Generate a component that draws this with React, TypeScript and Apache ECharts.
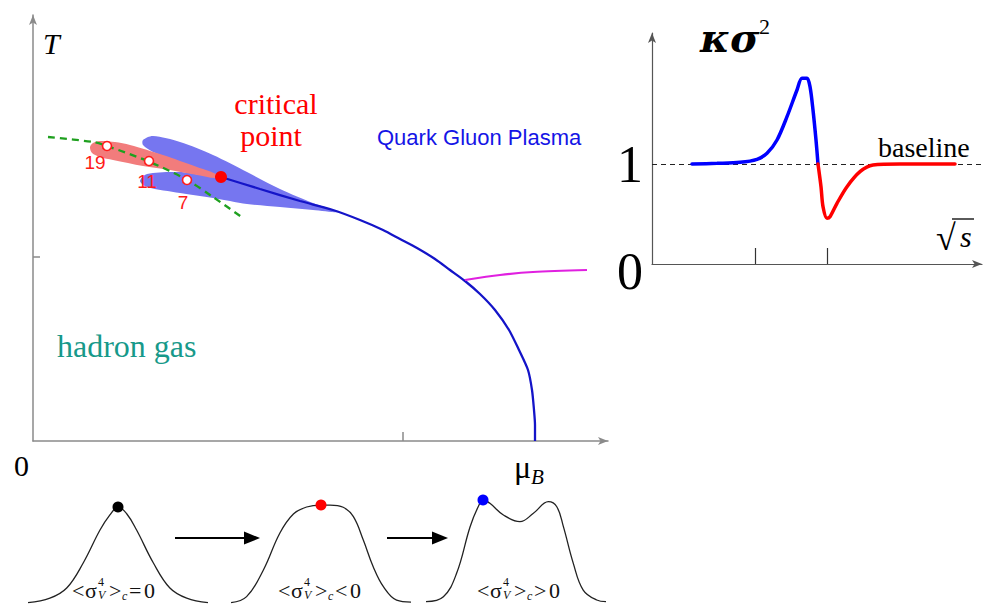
import React, { useEffect, useRef } from 'react';
import * as echarts from 'echarts';

const SERIF = 'Liberation Serif';
const SANS = 'Liberation Sans';

// ---------- Phase diagram (arbitrary units: muB 0..575, T 0..426) ----------
const MU_MAX = 575;
const T_MAX = 426;
const MU_TICKS = [370];
const T_TICKS = [184];

const BLUE_LOBES = [
  [110, 301], [120, 305], [147, 299], [180, 286], [214, 269], [247, 252], [280, 238], [305, 229],
  [280, 231], [247, 234], [214, 237], [180, 243], [147, 248], [114, 254], [107, 260], [114, 267],
  [147, 269], [177, 265], [157, 273], [135, 283], [120, 289], [110, 296],
];
const SALMON_LOBE = [
  [57, 294], [60, 298], [67, 300], [82, 299], [97, 296], [130, 286], [164, 274], [185, 266],
  [182, 263], [164, 266], [137, 271], [110, 275], [80, 281], [67, 284], [59, 288],
];
const FREEZEOUT = [[15, 304], [60, 299], [74, 295], [117, 279], [154, 261], [180, 244], [210, 223]];
const PHASE_BOUNDARY = [
  [188, 264], [227, 252], [267, 240], [300, 231], [327, 221], [350, 211], [367, 202], [384, 193],
  [402, 182], [417, 171], [432, 160], [447, 147], [462, 131], [476, 111], [486, 91], [495, 71],
  [499, 51], [501, 31], [502, 16], [502, 0],
];
const LIQUID_GAS = [[432, 161], [467, 166], [500, 169], [554, 171]];
const ENERGY_LABELS = ['19', '11', '7'];
const ENERGY_POINTS = [[74, 295], [116, 280], [154, 261]];
const CRITICAL_POINT = [188, 264];

// ---------- kappa sigma^2 vs sqrt(s) ----------
const S_MAX = 330;
const K_MAX = 2.31;
const S_TICKS = [103, 175];
const K_LABELS = [0, 1];
const BASELINE = 1;
const KAPPA_BLUE = [
  [40, 1.0], [65, 1.007], [88, 1.017], [105, 1.047], [115, 1.107], [125, 1.24], [135, 1.473],
  [145, 1.74], [150, 1.857], [155, 1.857], [158, 1.773], [161, 1.54], [164, 1.24], [166, 1.0],
];
const KAPPA_RED = [
  [166, 1.0], [169, 0.773], [171, 0.573], [175, 0.457], [178, 0.473], [185, 0.607], [195, 0.773],
  [208, 0.923], [221, 0.99], [248, 1.0], [303, 1.0],
];

// ---------- Distributions ----------
const DIST_GAUSS = [
  [-3, 0.003], [-2.27, 0.05], [-1.71, 0.156], [-1.16, 0.417], [-0.6, 0.76], [-0.27, 0.917], [0, 1.0],
  [0.29, 0.93], [0.62, 0.76], [1.18, 0.417], [1.73, 0.156], [2.29, 0.05], [3, 0.003],
];
const DIST_FLAT = [
  [-3, 0.003], [-2.48, 0.066], [-1.92, 0.344], [-1.37, 0.729], [-0.92, 0.927], [-0.48, 1.0], [0, 1.02],
  [0.3, 1.02], [0.74, 0.997], [1.08, 0.899], [1.41, 0.656], [1.74, 0.378], [2.08, 0.17], [2.52, 0.03], [3, 0.01],
];
const DIST_DOUBLE = [
  [-3, 0.014], [-2.42, 0.066], [-1.98, 0.309], [-1.53, 0.795], [-1.26, 1.003], [-1.09, 1.073], [-0.87, 1.038],
  [-0.42, 0.917], [0.13, 0.847], [0.58, 0.934], [1.08, 1.055], [1.36, 1.003], [1.58, 0.795], [1.91, 0.413],
  [2.24, 0.135], [2.69, 0.031], [3, 0.014],
];
const DIST_SERIES = [DIST_GAUSS, DIST_FLAT, DIST_DOUBLE];
const DIST_DOTS = [[0, 1.0], [0, 1.02], [-1.1, 1.073]];
const DIST_RELATIONS = ['=', '<', '>'];

function polygonSeries(pts: number[][], color: string, z: number) {
  return {
    type: 'custom',
    xAxisIndex: 0,
    yAxisIndex: 0,
    data: pts,
    z,
    silent: true,
    renderItem: (params: any, api: any) => {
      if (params.dataIndex !== 0) return null;
      return {
        type: 'polygon',
        shape: { points: pts.map((p) => api.coord(p)), smooth: 0.3 },
        style: { fill: color },
      };
    },
  };
}

type TOpts = { size: number; family?: string; italic?: boolean; bold?: boolean; fill?: string; align?: string; lineHeight?: number };
function txt(x: number, y: number, text: string, o: TOpts) {
  return {
    type: 'text', x, y, z: 50,
    style: {
      text,
      fontSize: o.size,
      fontFamily: o.family || SERIF,
      fontStyle: o.italic ? 'italic' : 'normal',
      fontWeight: o.bold ? 'bold' : 'normal',
      fill: o.fill || '#000',
      align: o.align || 'left',
      verticalAlign: 'middle',
      lineHeight: o.lineHeight,
    },
  };
}

function fluctLabel(x0: number, rel: string) {
  const c = 590;
  const ink = '#111';
  return [
    txt(x0, c, '<', { size: 22, fill: ink }),
    txt(x0 + 13, c, 'σ', { size: 22, fill: ink }),
    txt(x0 + 26, c - 8, '4', { size: 12, fill: ink }),
    txt(x0 + 26, c + 5, 'V', { size: 12, italic: true, fill: ink }),
    txt(x0 + 37, c, '>', { size: 22, fill: ink }),
    txt(x0 + 50, c + 6, 'c', { size: 12, italic: true, fill: ink }),
    txt(x0 + 57, c, rel, { size: 22, fill: ink }),
    txt(x0 + 72, c, '0', { size: 22, fill: ink }),
  ];
}

function arrow(x1: number, x2: number, y: number) {
  return [
    { type: 'line', z: 50, shape: { x1, y1: y, x2: x2 - 12, y2: y }, style: { stroke: '#000', lineWidth: 2.2 } },
    { type: 'polygon', z: 50, shape: { points: [[x2 - 16, y - 6.5], [x2, y], [x2 - 16, y + 6.5]] }, style: { fill: '#000' } },
  ];
}

function buildOption() {
  const axisGrey = { color: '#8a8a8a', width: 1.5 };
  const axisDark = { color: '#555', width: 1.2 };
  const hidden = { show: false };
  const offsets = [[-12, 16], [-2, 20], [-4, 22]];
  const dotColors = ['#000', '#ff0000', '#0000ff'];
  const distLeft = [28, 231, 426];
  const labelLeft = [72, 278, 477];

  return {
    animation: false,
    backgroundColor: '#fff',
    grid: [
      { left: 33, top: 15, width: 575, height: 426, containLabel: false },
      { left: 652, top: 33, width: 330, height: 231, containLabel: false },
      ...distLeft.map((l) => ({ left: l, top: 495, width: 180, height: 108, containLabel: false })),
    ],
    xAxis: [
      {
        type: 'value', gridIndex: 0, min: 0, max: MU_MAX,
        axisLine: { show: true, lineStyle: axisGrey, symbol: ['none', 'arrow'], symbolSize: [6, 10] },
        axisTick: { show: true, customValues: MU_TICKS, inside: true, length: 9, lineStyle: axisGrey },
        axisLabel: hidden, splitLine: hidden,
      },
      {
        type: 'value', gridIndex: 1, min: 0, max: S_MAX,
        axisLine: { show: true, lineStyle: axisDark, symbol: ['none', 'arrow'], symbolSize: [6, 10] },
        axisTick: { show: true, customValues: S_TICKS, inside: true, length: 16, lineStyle: { color: '#333', width: 1.2 } },
        axisLabel: hidden, splitLine: hidden,
      },
      ...[2, 3, 4].map((g) => ({ type: 'value', gridIndex: g, min: -3, max: 3, show: false })),
    ],
    yAxis: [
      {
        type: 'value', gridIndex: 0, min: 0, max: T_MAX,
        axisLine: { show: true, lineStyle: axisGrey, symbol: ['none', 'arrow'], symbolSize: [6, 10] },
        axisTick: { show: true, customValues: T_TICKS, inside: true, length: 7, lineStyle: axisGrey },
        axisLabel: hidden, splitLine: hidden,
      },
      {
        type: 'value', gridIndex: 1, min: 0, max: K_MAX,
        axisLine: { show: true, lineStyle: axisDark, symbol: ['none', 'arrow'], symbolSize: [6, 10] },
        axisTick: hidden,
        axisLabel: {
          show: true,
          customValues: K_LABELS,
          margin: 9,
          formatter: (v: number) => (v === 0 ? '{z|0}' : '{o|1}'),
          rich: {
            z: { fontSize: 52, fontFamily: SERIF, color: '#000', padding: [14, 0, 0, 0] },
            o: { fontSize: 52, fontFamily: SERIF, color: '#000' },
          },
        },
        splitLine: hidden,
      },
      ...[2, 3, 4].map((g) => ({ type: 'value', gridIndex: g, min: 0, max: 1.125, show: false })),
    ],
    series: [
      polygonSeries(BLUE_LOBES, '#7676f0', 2),
      polygonSeries(SALMON_LOBE, '#f27c7c', 3),
      {
        type: 'line', xAxisIndex: 0, yAxisIndex: 0, data: FREEZEOUT, smooth: 0.3, symbol: 'none', z: 4,
        lineStyle: { color: '#1fa01f', width: 2.3, type: [7, 5] },
      },
      {
        type: 'line', xAxisIndex: 0, yAxisIndex: 0, data: PHASE_BOUNDARY, smooth: 0.25, symbol: 'none', z: 5,
        lineStyle: { color: '#1414c8', width: 2.3 },
      },
      {
        type: 'line', xAxisIndex: 0, yAxisIndex: 0, data: LIQUID_GAS, smooth: 0.3, symbol: 'none', z: 5,
        lineStyle: { color: '#e020e0', width: 2.2 },
      },
      {
        type: 'scatter', xAxisIndex: 0, yAxisIndex: 0, z: 6, symbol: 'circle', symbolSize: 9,
        itemStyle: { color: '#ffffff', borderColor: '#ff1a1a', borderWidth: 1.6, opacity: 1 },
        data: ENERGY_POINTS.map((p, i) => ({
          value: p,
          name: ENERGY_LABELS[i],
          label: { show: true, position: 'inside', offset: offsets[i], formatter: '{b}', color: '#ff1a1a', fontSize: 19, fontFamily: SANS },
        })),
      },
      {
        type: 'scatter', xAxisIndex: 0, yAxisIndex: 0, z: 7, symbol: 'circle', symbolSize: 12,
        itemStyle: { color: '#ff0000', opacity: 1 }, data: [CRITICAL_POINT],
      },
      {
        type: 'line', xAxisIndex: 1, yAxisIndex: 1, data: [], z: 1,
        markLine: {
          silent: true, symbol: ['none', 'none'], label: hidden,
          lineStyle: { color: '#222', width: 1, type: [5, 4] },
          data: [{ yAxis: BASELINE }],
        },
      },
      {
        type: 'line', xAxisIndex: 1, yAxisIndex: 1, data: KAPPA_BLUE, smooth: 0.3, symbol: 'none', z: 5,
        lineStyle: { color: '#0000ff', width: 3.5, cap: 'round' },
      },
      {
        type: 'line', xAxisIndex: 1, yAxisIndex: 1, data: KAPPA_RED, smooth: 0.3, symbol: 'none', z: 5,
        lineStyle: { color: '#ff0000', width: 3.5, cap: 'round' },
      },
      ...DIST_SERIES.map((d, i) => ({
        type: 'line', xAxisIndex: 2 + i, yAxisIndex: 2 + i, data: d, smooth: 0.4, symbol: 'none', z: 5,
        lineStyle: { color: '#222', width: 1.3 },
      })),
      ...DIST_DOTS.map((p, i) => ({
        type: 'scatter', xAxisIndex: 2 + i, yAxisIndex: 2 + i, data: [p], z: 6, symbolSize: 11,
        itemStyle: { color: dotColors[i], opacity: 1 },
      })),
    ],
    graphic: {
      elements: [
        txt(43, 43, 'T', { size: 30, italic: true }),
        txt(14, 465, '0', { size: 30 }),
        txt(514, 467, 'μ', { size: 32 }),
        txt(531, 477, 'B', { size: 21, italic: true }),
        txt(276, 103, 'critical', { size: 30, fill: '#ff0000', align: 'center' }),
        txt(271, 135, 'point', { size: 30, fill: '#ff0000', align: 'center' }),
        txt(377, 137, 'Quark Gluon Plasma', { size: 22, family: SANS, fill: '#1515e6' }),
        txt(57, 346, 'hadron gas', { size: 32, fill: '#17998a' }),
        txt(700, 37, 'κσ', { size: 40, italic: true, bold: true, family: 'DejaVu Serif' }),
        txt(759, 26, '2', { size: 22 }),
        txt(878, 147, 'baseline', { size: 28 }),
        txt(936, 238, '√', { size: 36 }),
        { type: 'line', z: 50, shape: { x1: 952, y1: 219, x2: 974, y2: 219 }, style: { stroke: '#000', lineWidth: 1.3 } },
        txt(960, 236, 's', { size: 30, italic: true }),
        ...arrow(175, 260, 538),
        ...arrow(387, 448, 538),
        ...labelLeft.flatMap((x, i) => fluctLabel(x, DIST_RELATIONS[i])),
      ],
    },
  };
}

export default function App() {
  const ref = useRef<HTMLDivElement>(null);
  useEffect(() => {
    const chart = echarts.init(ref.current!, null, { renderer: 'svg' });
    chart.setOption(buildOption() as any);
    return () => chart.dispose();
  }, []);
  return (
    <div
      ref={ref}
      style={{ position: 'fixed', left: 0, top: 0, width: 988, height: 606, background: '#fff' }}
    />
  );
}
